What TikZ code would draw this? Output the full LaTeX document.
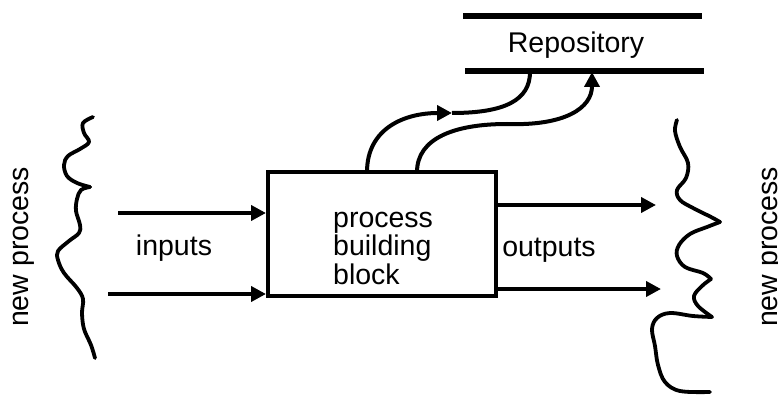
\documentclass[tikz,border=0pt]{standalone}
\usepackage{fontspec}
\setmainfont{Liberation Sans}
\usetikzlibrary{arrows.meta}
\tikzset{
  lbl/.style={font=\fontsize{28.5}{28.5}\selectfont, inner sep=0pt},
  flow/.style={line width=4pt, -{Triangle[length=15pt,width=15pt]}},
  plainflow/.style={line width=4pt},
  wave/.style={line width=3.8pt, line cap=round, line join=round},
  storeline/.style={line width=6pt},
  blockbox/.style={draw, line width=4pt, minimum width=228pt, minimum height=124pt, inner sep=0pt}
}
\begin{document}
\begin{tikzpicture}[x=1pt,y=-1pt]
\useasboundingbox (0,0) rectangle (778,395);
% process block
\node[blockbox] (pbb) at (382,234) {};
\node[lbl, align=left, anchor=base west] (pbbtext) at (333,284) {process\\building\\block};
% repository
\coordinate (rtl) at (463,16); \coordinate (rtr) at (702,16);
\coordinate (rbl) at (465,71); \coordinate (rbr) at (704,71);
\draw[storeline] (rtl) -- (rtr);
\draw[storeline] (rbl) -- (rbr);
\node[lbl, anchor=base] (repo) at (576,53) {Repository};
% inputs
\coordinate (in1) at (118,213);
\coordinate (in2) at (108,294);
\draw[flow] (in1) -- (pbb.west |- in1);
\draw[flow] (in2) -- (pbb.west |- in2);
\node[lbl, anchor=base] (inlbl) at (174,255) {inputs};
% outputs
\coordinate (out1) at (656,205);
\coordinate (out2) at (661,289);
\draw[flow] (pbb.east |- out1) -- (out1);
\draw[flow] (pbb.east |- out2) -- (out2);
\node[lbl, anchor=base] (outlbl) at (549,256) {outputs};
% to repository
\coordinate (s1) at (367,172);
\coordinate (m1) at (452,113);
\coordinate (e1) at (530,72);
\coordinate (s2) at (417,172);
\coordinate (m2) at (507,124);
\coordinate (e2) at (592,72);
\draw[flow] (s1) .. controls (367,128) and (405,113) .. (m1);
\draw[plainflow] (m1) .. controls (505,113) and (530,100) .. (e1);
\draw[plainflow] (s2) .. controls (417,138) and (455,124) .. (m2);
\draw[flow] (m2) .. controls (565,126) and (592,108) .. (e2);
% new process labels
\node[lbl, rotate=90, anchor=base] (np1) at (28,247) {new process};
\node[lbl, rotate=90, anchor=base] (np2) at (777,247) {new process};
% left wave
\draw[wave] plot[smooth, tension=0.6] coordinates {(93,117) (83,123) (84,133) (89,142) (80,149) (68,156) (64,165) (67,176) (77,183) (90,187)};
\draw[wave] plot[smooth, tension=0.6] coordinates {(90,187) (81,190) (77,199) (76,211) (80,225) (79,233) (69,241) (58,251) (58,260) (64,273) (77,288) (83,299) (82,313) (84,329) (91,345) (95,358)};
% right wave
\draw[wave] plot[smooth, tension=0.6] coordinates {(677,120) (675,131) (680,147) (688,163) (686,178) (677,190) (680,200) (693,208) (711,217) (720,222)};
\draw[wave] plot[smooth, tension=0.6] coordinates {(720,222) (707,227) (690,234) (679,245) (677,256) (685,267) (703,273) (711,279)};
\draw[wave] plot[smooth, tension=0.6] coordinates {(711,279) (702,286) (694,296) (698,306) (712,317)};
\draw[wave] plot[smooth, tension=0.6] coordinates {(712,317) (693,316) (670,313) (657,318) (652,329) (655,346) (658,365) (665,382) (680,391) (710,392)};
\end{tikzpicture}
\end{document}
